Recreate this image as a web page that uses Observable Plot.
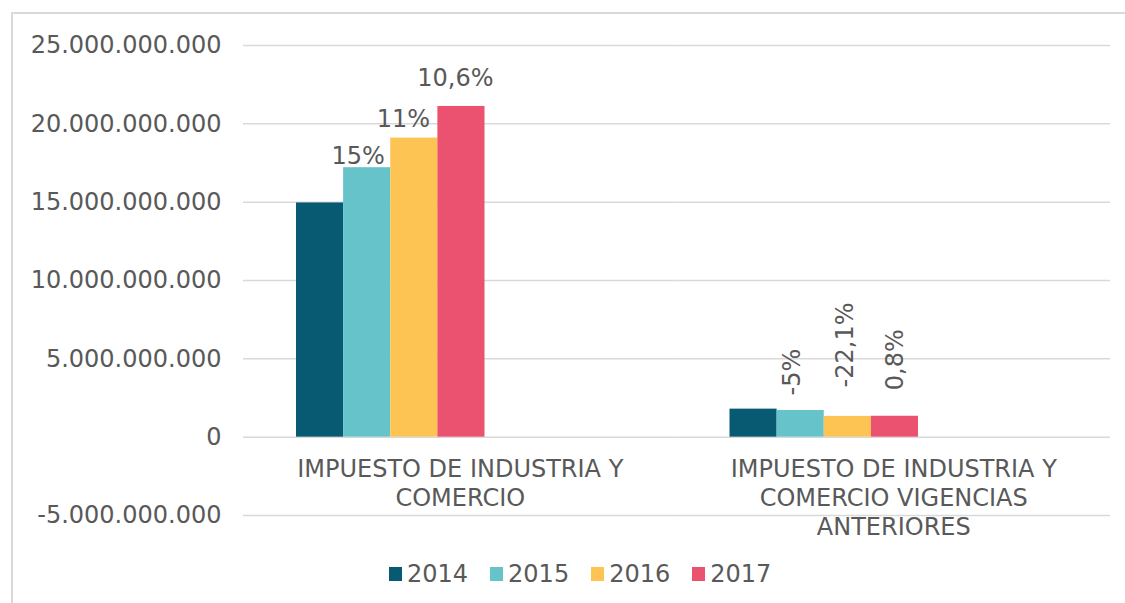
<!DOCTYPE html>
<html>
<head>
<meta charset="utf-8">
<script src="https://cdn.jsdelivr.net/npm/d3@7"></script>
<script src="https://cdn.jsdelivr.net/npm/@observablehq/plot@0.6"></script>
<style>
  html, body { margin: 0; padding: 0; background: #ffffff; }
  #wrap { position: relative; width: 1125px; height: 603px; overflow: hidden; font-family: "DejaVu Sans", Verdana, sans-serif; }
  #frame { position: absolute; left: 11px; top: 12px; right: -4px; bottom: -4px; border-left: 2px solid #d9d9d9; border-top: 2px solid #d9d9d9; pointer-events: none; }
  #legend { position: absolute; left: 389px; top: 557px; }
  .lg-swatch { margin-right: 22px !important; }
  .lg-swatch > svg { margin-right: 5px !important; }
</style>
</head>
<body>
<div id="wrap">
  <div id="chart"></div>
  <div id="legend"></div>
  <div id="frame"></div>
</div>
<script>
// ---- data ----
const categories = [
  "IMPUESTO DE INDUSTRIA Y COMERCIO",
  "IMPUESTO DE INDUSTRIA Y COMERCIO VIGENCIAS ANTERIORES"
];
const categoryLabels = [
  "IMPUESTO DE INDUSTRIA Y\nCOMERCIO",
  "IMPUESTO DE INDUSTRIA Y\nCOMERCIO VIGENCIAS\nANTERIORES"
];
const years = ["2014", "2015", "2016", "2017"];
const icaValues = [14950000000, 17200000000, 19090000000, 21110000000];
const vigenciasValues = [1790000000, 1700000000, 1325000000, 1335000000];
const icaGrowth = ["", "15%", "11%", "10,6%"];
const vigenciasGrowth = ["", "-5%", "-22,1%", "0,8%"];
const yTicks = [-5000000000, 0, 5000000000, 10000000000, 15000000000, 20000000000, 25000000000];
const yearColors = ["#075a72", "#65c3c9", "#fdc454", "#ea526f"];

// ---- table ----
const seriesByCategory = [icaValues, vigenciasValues];
const growthByCategory = [icaGrowth, vigenciasGrowth];
const rows = categories.flatMap((c, ci) =>
  years.map((y, yi) => ({category: c, year: y, value: seriesByCategory[ci][yi], growth: growthByCategory[ci][yi]}))
);

const fmt = d3.formatLocale({decimal: ",", thousands: ".", grouping: [3], currency: ["$", ""], minus: "-"}).format(",d");
const textColor = "#595959";

function growthLabel(ci, yi, opts) {
  const row = rows.filter(r => r.category === categories[ci] && r.year === years[yi]);
  return Plot.text(row, {fx: "category", x: "year", y: "value", text: "growth", fill: textColor, fontSize: 24, ...opts});
}

const plot = Plot.plot({
  width: 1125,
  height: 555,
  marginLeft: 243,
  marginRight: 15,
  marginTop: 45,
  marginBottom: 40,
  style: {fontFamily: "'DejaVu Sans', Verdana, sans-serif", fontSize: "24px", color: textColor, background: "transparent"},
  fx: {domain: categories, padding: 0, round: false, axis: null},
  x: {domain: years, padding: 0, round: false, insetLeft: 53, insetRight: 192, axis: null},
  y: {domain: [-5000000000, 25000000000], ticks: yTicks, tickFormat: fmt, tickSize: 0, tickPadding: 22, label: null},
  color: {domain: years, range: yearColors},
  marks: [
    Plot.ruleY(yTicks, {stroke: "#d9d9d9", strokeWidth: 1.5}),
    Plot.barY(rows, {fx: "category", x: "year", y: "value", fill: "year", insetLeft: 0, insetRight: 0}),
    Plot.text(categories, {fx: d => d, y: () => 0, text: (d, i) => categoryLabels[i], lineAnchor: "top", dy: 19, lineHeight: 1.21, fontSize: 24, fill: textColor}),
    growthLabel(0, 1, {lineAnchor: "bottom", dy: -4, dx: -9}),
    growthLabel(0, 2, {lineAnchor: "bottom", dy: -11, dx: -11}),
    growthLabel(0, 3, {lineAnchor: "bottom", dy: -20, dx: -6}),
    growthLabel(1, 1, {rotate: -90, textAnchor: "start", lineAnchor: "middle", dy: -15, dx: -8}),
    growthLabel(1, 2, {rotate: -90, textAnchor: "start", lineAnchor: "middle", dy: -29, dx: -3}),
    growthLabel(1, 3, {rotate: -90, textAnchor: "start", lineAnchor: "middle", dy: -26, dx: 0})
  ]
});
document.getElementById("chart").appendChild(plot);

const legend = plot.legend("color", {
  className: "lg",
  swatchWidth: 13,
  swatchHeight: 14,
  style: {fontSize: "24px", fontFamily: "'DejaVu Sans', Verdana, sans-serif", color: textColor, lineHeight: "28px"}
});
document.getElementById("legend").appendChild(legend);
</script>
</body>
</html>
